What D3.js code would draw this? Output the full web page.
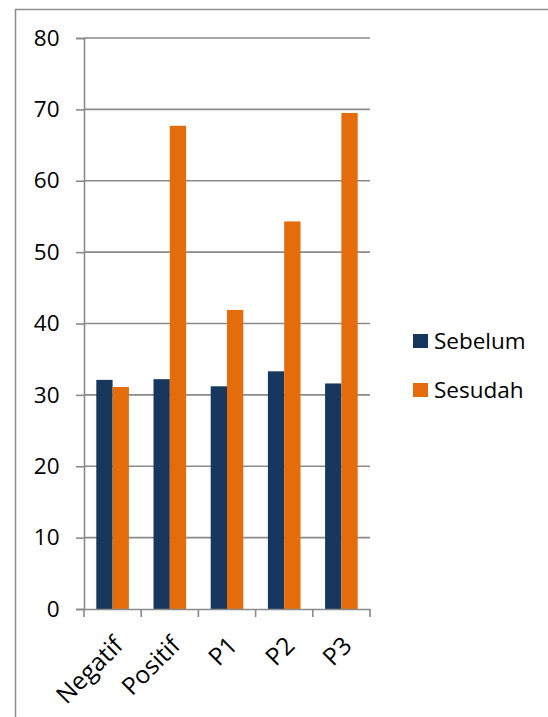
<!DOCTYPE html>
<html><head><meta charset="utf-8">
<script src="https://cdn.jsdelivr.net/npm/d3@7"></script>
<style>body{margin:0;background:#fff}svg{display:block}</style>
</head><body>
<script>
const categories = ["Negatif", "Positif", "P1", "P2", "P3"];
const seriesNames = ["Sebelum", "Sesudah"];
const sebelum = [32.1, 32.2, 31.2, 33.3, 31.6];
const sesudah = [31.1, 67.7, 41.9, 54.3, 69.5];
const yTicks = [0, 10, 20, 30, 40, 50, 60, 70, 80];
const colors = ["#17375E", "#E46C0A"];

const W = 548, H = 717;
const svg = d3.select("body").append("svg").attr("width", W).attr("height", H);
const font = "'Open Sans', Lato, sans-serif";
const fs = 22.5;

// outer frame
svg.append("rect").attr("x", 15.5).attr("y", 9.5).attr("width", 600).attr("height", 800)
  .attr("fill", "none").attr("stroke", "#8c8c8c").attr("stroke-width", 1.5);

const plot = {left: 84, right: 370, top: 38, bottom: 609};
const x = d3.scaleBand().domain(categories).range([plot.left, plot.right]).paddingInner(0).paddingOuter(0);
const x1 = d3.scaleBand().domain(seriesNames).range([0, x.bandwidth()]).paddingInner(0).paddingOuter(0.755);
const y = d3.scaleLinear().domain([0, 80]).range([plot.bottom, plot.top]);

// gridlines
svg.append("g").selectAll("line").data(yTicks.filter(d => d > 0)).join("line")
  .attr("x1", plot.left).attr("x2", plot.right)
  .attr("y1", d => y(d)).attr("y2", d => y(d))
  .attr("stroke", "#8a8a8a").attr("stroke-width", 1.6);

// bars
const data = categories.map((c, i) => ({c, vals: [sebelum[i], sesudah[i]]}));
const g = svg.append("g").selectAll("g").data(data).join("g")
  .attr("transform", d => `translate(${x(d.c)},0)`);
g.selectAll("rect").data(d => d.vals.map((v, j) => ({v, s: seriesNames[j], j}))).join("rect")
  .attr("x", d => x1(d.s)).attr("width", x1.bandwidth())
  .attr("y", d => y(d.v)).attr("height", d => y(0) - y(d.v))
  .attr("fill", d => colors[d.j]);

// y axis
const yAxis = d3.axisLeft(y).tickValues(yTicks).tickSize(8).tickPadding(16.5);
const ya = svg.append("g").attr("transform", `translate(${plot.left},0)`).call(yAxis);
ya.select(".domain").attr("stroke", "#8a8a8a").attr("stroke-width", 1.6);
ya.selectAll(".tick line").attr("stroke", "#8a8a8a").attr("stroke-width", 1.6);
ya.selectAll("text").attr("font-family", font).attr("font-size", fs).attr("fill", "#000");

// x axis
const xAxis = d3.axisBottom(x).tickSizeOuter(0).tickSize(0);
const xa = svg.append("g").attr("transform", `translate(0,${plot.bottom})`).call(xAxis);
xa.select(".domain").attr("stroke", "#8a8a8a").attr("stroke-width", 1.6);
xa.selectAll(".tick line").remove();
// category boundary ticks
const bounds = categories.map(c => x(c)).concat([plot.right]);
xa.selectAll("line.bt").data(bounds).join("line").attr("class", "bt")
  .attr("x1", d => d).attr("x2", d => d).attr("y1", 0).attr("y2", 8)
  .attr("stroke", "#8a8a8a").attr("stroke-width", 1.6);
xa.selectAll(".tick text")
  .attr("font-family", font).attr("font-size", 24.5).attr("fill", "#000")
  .attr("text-anchor", "end").attr("dy", 0).attr("y", 0)
  .attr("transform", "translate(12,38) rotate(-45)");

// legend
const leg = svg.append("g");
seriesNames.forEach((s, i) => {
  const yy = 334 + i * 49;
  leg.append("rect").attr("x", 413).attr("y", yy).attr("width", 15).attr("height", 14).attr("fill", colors[i]);
  leg.append("text").attr("x", 434).attr("y", yy + 15).attr("font-family", font).attr("font-size", fs)
    .attr("fill", "#000").text(s);
});
</script>
</body></html>
